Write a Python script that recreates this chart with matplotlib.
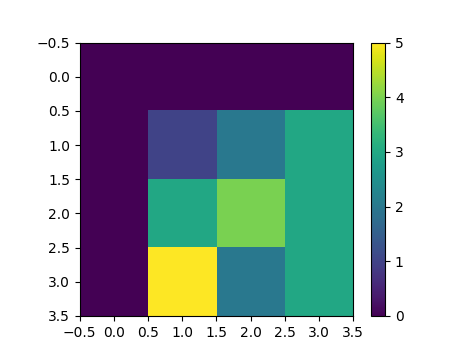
import numpy as np
import matplotlib
matplotlib.use("Agg")
import matplotlib.pyplot as plt
from matplotlib.ticker import MultipleLocator

row0 = [0, 0, 0, 0]
row1 = [0, 1, 2, 3]
row2 = [0, 3, 4, 3]
row3 = [0, 5, 2, 3]

data = np.array([row0, row1, row2, row3])

fig = plt.figure(figsize=(4.74, 3.55), dpi=100)
ax = fig.add_subplot(111)
im = ax.imshow(data, cmap="viridis")
ax.xaxis.set_major_locator(MultipleLocator(0.5))
ax.yaxis.set_major_locator(MultipleLocator(0.5))
ax.set_xlim(-0.5, 3.5)
ax.set_ylim(3.5, -0.5)
fig.colorbar(im, ax=ax)
fig.savefig("out.png", dpi=100)
